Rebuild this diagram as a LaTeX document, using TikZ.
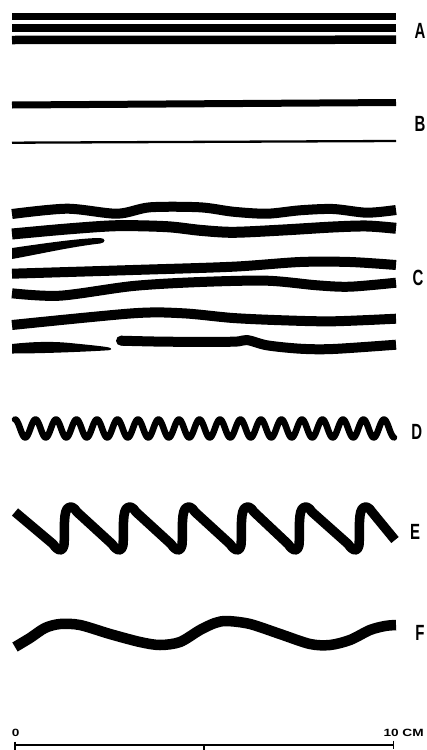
\documentclass[tikz,border=0pt]{standalone}
\usepackage{fontspec}
\setmainfont{Liberation Sans}
\begin{document}
\begin{tikzpicture}[x=1pt,y=-1pt,
  bar/.style={line width=#1,line cap=butt},
  cline/.style={line width=10pt,line cap=butt,line join=round},
  lab/.style={font=\fontsize{22}{22}\selectfont\bfseries,xscale=0.68,inner sep=0pt},
  scl/.style={font=\fontsize{10.5}{10.5}\selectfont\bfseries,xscale=1.3,inner sep=0pt}]
\useasboundingbox (0,0) rectangle (427,750);
% A
\draw[bar=7.5pt] (12,16.3) -- (396,16.3);
\draw[bar=8pt] (12,28.3) -- (396,28.3);
\draw[bar=8.5pt] (12,40) -- (396,39.7);
\node[lab] (la) at (420,30.5) {A};
% B
\draw[bar=7pt] (12,105) -- (396,102.5);
\draw[bar=2.3pt] (12,142.7) -- (396,141);
\node[lab] (lb) at (420,123.5) {B};
% C
\draw[cline] plot[smooth] coordinates {(12,214) (67,208.7) (117,213.7) (150,207.3) (200,207.3) (233,211.7) (267,213.7) (300,210.3) (333,209) (367,212.7) (396,210)};
\draw[cline,line width=11pt] plot[smooth] coordinates {(12,234) (67,229) (117,225.7) (167,226.7) (200,230.3) (233,232.3) (283,230) (333,227) (367,226) (396,228.3)};
\fill (12,248) .. controls (40,244) and (80,238) .. (100,238) .. controls (106,238) and (106,243) .. (100,243.5) .. controls (70,247) and (40,254) .. (12,259) -- cycle;
\draw[cline] plot[smooth] coordinates {(12,273.7) (133,270) (233,266.7) (300,262) (350,262) (396,265)};
\draw[cline] plot[smooth] coordinates {(12,293.3) (60,295.7) (133,286) (200,282) (267,280.7) (317,285.3) (350,286.7) (396,282.7)};
\draw[cline] plot[smooth] coordinates {(12,325) (133,313.3) (183,313.3) (233,318) (283,320.3) (333,321.3) (396,318.7)};
\fill (12,344) .. controls (30,342) and (50,341) .. (70,343) .. controls (90,345) and (105,346.5) .. (109,347.5) .. controls (112,348.5) and (112,350) .. (108,350.3) .. controls (80,352) and (40,353.5) .. (12,353.5) -- cycle;
\draw[cline] plot[smooth] coordinates {(121,340.7) (167,341.7) (233,341.7) (247,340) (267,345.3) (300,348.7) (333,349) (396,344.7)};
\fill (121,340.7) circle (5pt);
\node[lab] (lc) at (418,277.5) {C};
% D
\draw[line width=6.5pt,line cap=round,line join=round] plot[domain=15:394,samples=500,smooth] (\x,{428.5-9*cos((\x-15)*17.561)});
\node[lab] (ld) at (416.7,431.5) {D};
% E
\draw[line width=9.5pt,line cap=butt,line join=round] (15,512)
  \foreach \p in {67,126,185,244,302,362} {
    -- ({\p-14},544) .. controls ({\p-9},551) and ({\p-5},553) .. ({\p-3},545)
    .. controls ({\p-2},535) and ({\p-4},515) .. (\p,509)
    .. controls ({\p+3},505) and ({\p+7},507) .. ({\p+10},512)
  } -- (395,540);
\node[lab] (le) at (415,531.5) {E};
% F
\draw[line width=10.5pt,line cap=butt] plot[smooth] coordinates {(15,647) (30,638) (45,628) (60,624) (80,625) (110,634) (140,642) (160,645) (180,642) (200,630) (215,623) (227,621) (250,624) (280,634) (310,644) (330,645) (350,640) (370,630) (385,626) (396,625)};
\node[lab] (lf) at (420,633) {F};
% scale
\coordinate (s0) at (15,745);
\coordinate (s1) at (204,745);
\coordinate (s2) at (393.3,745);
\draw[line width=1.3pt] (s0) -- (s2);
\draw[line width=1.2pt] (15,741.5) -- (15,750);
\draw[line width=1.2pt] (s1) -- (204,750);
\draw[line width=1.2pt] (393.3,740.5) -- (393.3,749);
\node[scl,anchor=base west] (z0) at (11.5,736) {0};
\node[scl,anchor=base east] (z10) at (424,736) {10 CM};
\end{tikzpicture}
\end{document}
